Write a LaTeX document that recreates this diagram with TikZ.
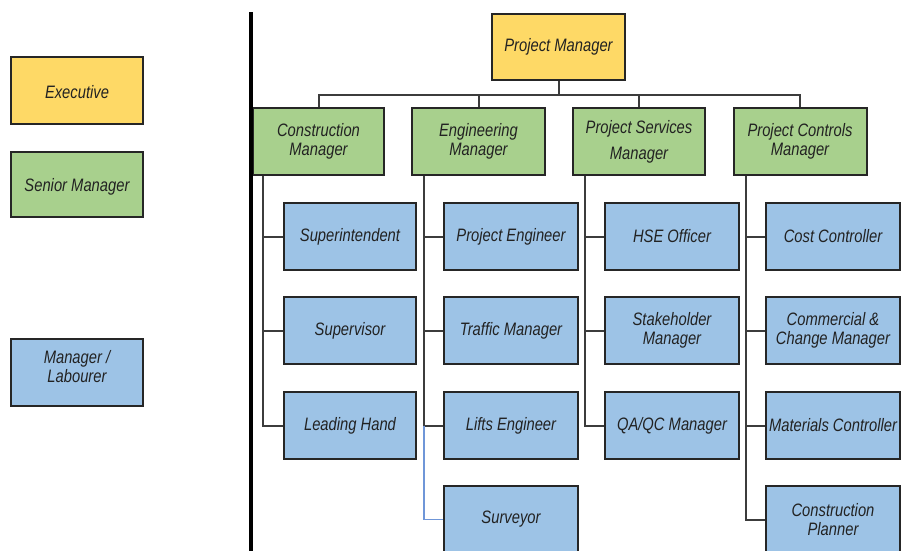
\documentclass[tikz,border=0pt]{standalone}
\usepackage{fontspec}
\setmainfont{Liberation Sans}[FakeStretch=0.82]
\definecolor{execY}{HTML}{FED966}
\definecolor{senG}{HTML}{A8D08D}
\definecolor{manB}{HTML}{9DC3E6}
\definecolor{edge}{HTML}{262626}
\definecolor{txt}{HTML}{222222}
\definecolor{linkB}{HTML}{6F96D8}
\begin{document}
\begin{tikzpicture}[x=1pt,y=-1pt,
  lbl/.style={inner sep=0pt,align=center,text=txt,font=\fontsize{18}{19}\selectfont\itshape},
  box/.style={lbl,draw=edge,line width=2pt,rectangle,
    minimum width=133pt,minimum height=67pt},
  exbox/.style={box,fill=execY},
  snbox/.style={box,fill=senG},
  mgbox/.style={box,fill=manB},
  link/.style={draw=edge!90,line width=2pt},
  bluelink/.style={draw=linkB,line width=1.2pt}]
\useasboundingbox (0,0) rectangle (901,550);
\clip (0,0) rectangle (901,550);
% legend
\node[exbox,minimum width=132pt] (lgexec) at (77,90.5) {};
\node[lbl] (lgexect) at ([yshift=-2pt]lgexec.center) {Executive};
\node[snbox,minimum width=132pt,minimum height=65pt] (lgsen) at (77,184.5) {};
\node[lbl] (lgsent) at ([yshift=-2pt]lgsen.center) {Senior Manager};
\node[mgbox,minimum width=132pt] (lgman) at (77,372.5) {};
\node[lbl] (lgmant) at ([yshift=6pt]lgman.center) {Manager /\\Labourer};
% top
\node[exbox,minimum height=66pt] (pm) at (558.5,47) {Project Manager};
\node[snbox,minimum width=131pt] (cm) at (318.5,141.5) {Construction\\Manager};
\node[snbox] (em) at (478.5,141.5) {Engineering\\Manager};
\node[snbox,minimum width=132pt] (psm) at (639,141.5) {Project Services\\[7pt]Manager};
\node[snbox] (pcm) at (800,141.5) {Project Controls\\Manager};
\coordinate (bus) at (558.5,95);
\draw[link] (pm.south) -- (bus);
\draw[link] (cm.north) |- (bus);
\draw[link] (em.north) |- (bus);
\draw[link] (psm.north) |- (bus);
\draw[link] (pcm.north) |- (bus);
% children
\node[mgbox,minimum width=132pt] (sup) at (350,236.5) {Superintendent};
\node[mgbox,minimum width=132pt] (supv) at (350,330.5) {Supervisor};
\node[mgbox,minimum width=132pt] (lh) at (350,425.5) {Leading Hand};
\node[mgbox,minimum width=134pt] (pe) at (511,236.5) {Project Engineer};
\node[mgbox,minimum width=134pt] (tm) at (511,330.5) {Traffic Manager};
\node[mgbox,minimum width=134pt] (le) at (511,425.5) {Lifts Engineer};
\node[mgbox,minimum width=134pt] (sv) at (511,519.5) {Surveyor};
\node[mgbox,minimum width=134pt] (hse) at (672,236.5) {HSE Officer};
\node[mgbox,minimum width=134pt] (shm) at (672,330.5) {Stakeholder\\Manager};
\node[mgbox,minimum width=134pt] (qa) at (672,425.5) {QA/QC Manager};
\node[mgbox,minimum width=134pt] (cc) at (833,236.5) {Cost Controller};
\node[mgbox,minimum width=134pt] (ccm) at (833,330.5) {Commercial \&\\Change Manager};
\node[mgbox,minimum width=134pt] (mc) at (833,425.5) {Materials Controller};
\node[mgbox,minimum width=134pt] (cp) at (833,519.5) {Construction\\Planner};
% spine tops
\coordinate (s1) at ([xshift=11pt]cm.south west);
\coordinate (s2) at ([xshift=13pt]em.south west);
\coordinate (s3) at ([xshift=13pt]psm.south west);
\coordinate (s4) at ([xshift=13pt]pcm.south west);
\coordinate (s2b) at (s2 |- le.west);
\foreach \c in {sup,supv,lh} \draw[link] (s1) |- (\c.west);
\foreach \c in {pe,tm,le} \draw[link] (s2) |- (\c.west);
\draw[bluelink] (s2b) |- (sv.west);
\foreach \c in {hse,shm,qa} \draw[link] (s3) |- (\c.west);
\foreach \c in {cc,ccm,mc,cp} \draw[link] (s4) |- (\c.west);
% thick divider
\coordinate (vtop) at (251,12);
\coordinate (vbot) at (251,560);
\draw[line width=4pt,black] (vtop) -- (vbot);
\end{tikzpicture}
\end{document}
